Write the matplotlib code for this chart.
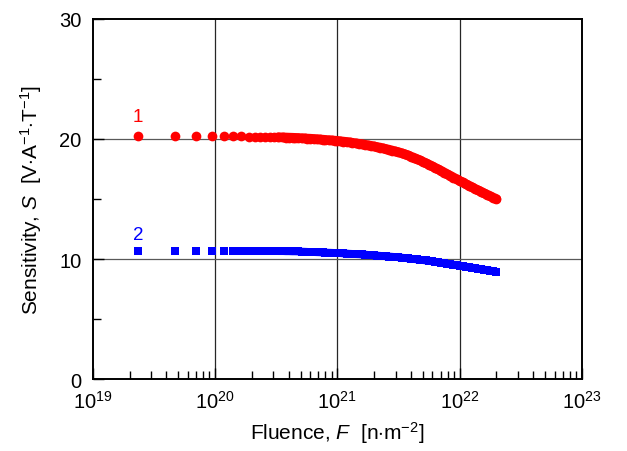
import matplotlib
matplotlib.use('Agg')
import matplotlib.pyplot as plt
from matplotlib.ticker import LogLocator, FixedLocator

plt.rcParams['font.family'] = 'Liberation Sans'
plt.rcParams['mathtext.fontset'] = 'custom'
plt.rcParams['mathtext.rm'] = 'Liberation Sans'
plt.rcParams['mathtext.it'] = 'Liberation Sans:italic'

# fluence in units of 1e20 n/m^2
fluence = [0.235, 0.47, 0.705, 0.94, 1.175, 1.41, 1.645, 1.88, 2.115, 2.35,
           2.585, 2.82, 3.055, 3.29,
           3.6, 3.8, 4.0, 4.3, 4.5, 4.8, 5.1, 5.4, 5.7, 6.0,
           6.4, 6.8, 7.2, 7.6, 8.0, 8.5, 9.0, 9.5, 10, 10.6,
           11.2, 11.9, 12.6, 13.3, 14.1, 15, 15.8, 16.8, 17.8, 18.8,
           20, 21, 22.4, 23.7, 25, 26.6, 28.2, 29.9, 31.6, 33.5,
           35.5, 37.6, 39.8, 42.2, 44.7, 47.3, 50.1, 53.1, 56.2, 59.6,
           63.1, 66.8, 70.8, 75, 79.4, 84.1, 89.1, 94.4, 100, 106,
           112, 119, 126, 133, 141, 150, 158, 168, 178, 188,
           200]

sens_1 = [20.25, 20.25, 20.24, 20.24, 20.23, 20.22, 20.21, 20.20, 20.19, 20.18,
          20.17, 20.16, 20.15, 20.14,
          20.13, 20.12, 20.11, 20.10, 20.09, 20.08, 20.06, 20.05, 20.03, 20.02,
          20.00, 19.98, 19.96, 19.94, 19.92, 19.90, 19.88, 19.86, 19.84, 19.81,
          19.78, 19.75, 19.72, 19.68, 19.64, 19.60, 19.56, 19.52, 19.47, 19.43,
          19.38, 19.33, 19.28, 19.22, 19.16, 19.10, 19.03, 18.96, 18.90, 18.82,
          18.73, 18.64, 18.54, 18.44, 18.33, 18.22, 18.10, 17.98, 17.86, 17.73,
          17.60, 17.47, 17.34, 17.20, 17.06, 16.93, 16.79, 16.65, 16.51, 16.38,
          16.25, 16.12, 15.99, 15.86, 15.73, 15.61, 15.48, 15.36, 15.24, 15.12,
          15.00]

sens_2 = [10.70, 10.70, 10.70, 10.69, 10.69, 10.69, 10.68, 10.68, 10.68, 10.67,
          10.67, 10.67, 10.67, 10.66,
          10.66, 10.65, 10.65, 10.64, 10.64, 10.63, 10.62, 10.61, 10.60, 10.59,
          10.58, 10.57, 10.56, 10.55, 10.54, 10.53, 10.52, 10.51, 10.50, 10.49,
          10.47, 10.46, 10.44, 10.43, 10.41, 10.40, 10.38, 10.37, 10.35, 10.33,
          10.31, 10.29, 10.27, 10.25, 10.23, 10.21, 10.19, 10.17, 10.15, 10.12,
          10.09, 10.06, 10.03, 10.00, 9.97, 9.94, 9.91, 9.88, 9.85, 9.81,
          9.77, 9.73, 9.69, 9.65, 9.61, 9.57, 9.53, 9.49, 9.45, 9.41,
          9.37, 9.33, 9.29, 9.25, 9.20, 9.16, 9.12, 9.08, 9.04, 9.00,
          8.96]

x = [f * 1e20 for f in fluence]
n_sparse = 14  # points that are still drawn as separate markers

fig = plt.figure(figsize=(6.27, 4.52), dpi=100)
ax = fig.add_axes([0.148, 0.159, 0.78, 0.797])

ax.set_xscale('log')
ax.set_xlim(1e19, 1e23)
ax.set_ylim(0, 30)

# grid
for gx in [1e20, 1e21, 1e22]:
    ax.axvline(gx, color='0.15', lw=0.9, zorder=1)
for gy in [10, 20]:
    ax.axhline(gy, color='0.35', lw=0.9, zorder=1)

ax.plot(x, sens_1, 'o', color='red', ms=7.0, mew=0, zorder=3)
ax.plot(x[n_sparse - 1:], sens_1[n_sparse - 1:], '-', color='red', lw=7.0,
        solid_capstyle='round', zorder=3)
ax.plot(x, sens_2, 's', color='blue', ms=5.3, mew=0, zorder=3)
ax.plot(x[n_sparse - 1:], sens_2[n_sparse - 1:], '-', color='blue', lw=5.6,
        solid_capstyle='butt', zorder=3)

ax.text(2.35e19, 21.5, '1', color='red', fontsize=13.5, ha='center')
ax.text(2.35e19, 11.7, '2', color='blue', fontsize=13.5, ha='center')

ax.xaxis.set_major_locator(LogLocator(base=10, numticks=10))
ax.xaxis.set_minor_locator(LogLocator(base=10, subs=range(2, 10), numticks=10))
ax.yaxis.set_major_locator(FixedLocator([0, 10, 20, 30]))
ax.yaxis.set_minor_locator(FixedLocator([5, 15, 25]))
ax.tick_params(which='both', direction='in', top=False, right=False, labelsize=14.5)
ax.tick_params(which='major', length=8, width=1.0)
ax.tick_params(which='minor', length=6, width=1.0)
ax.tick_params(axis='x', which='major', pad=8)
ax.tick_params(axis='y', which='major', pad=8)

for s in ax.spines.values():
    s.set_linewidth(1.4)

ax.set_xlabel('Fluence, $F$  [n$\\cdot$m$^{-2}$]', fontsize=15, labelpad=5)
ax.set_ylabel('Sensitivity, $S$  [V$\\cdot$A$^{-1}$$\\cdot$T$^{-1}$]', fontsize=15, labelpad=11)

fig.savefig('out.png', dpi=100)
